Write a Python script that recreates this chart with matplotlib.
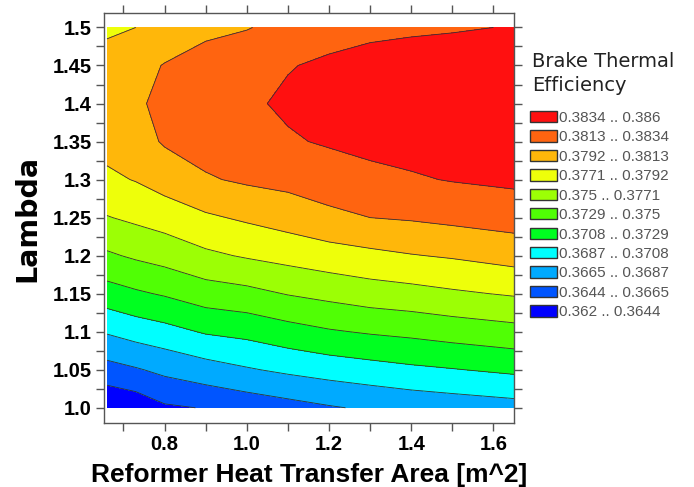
import matplotlib
matplotlib.use('Agg')
import matplotlib.pyplot as plt
from matplotlib.patches import Patch
from matplotlib.ticker import FixedLocator, FixedFormatter, MultipleLocator

plt.rcParams['font.family'] = ['Liberation Sans', 'DejaVu Sans']

# grid the efficiency values were read on
area = [0.66, 0.73, 0.8, 0.9, 1.0, 1.1, 1.2, 1.3, 1.4, 1.5, 1.65]
lam = [1.0, 1.05, 1.1, 1.15, 1.2, 1.25, 1.3, 1.35, 1.4, 1.45, 1.5]

# brake thermal efficiency, one row per lambda (bottom to top), one column per area
eff = [
    [0.3625, 0.3630, 0.3641, 0.3645, 0.3651, 0.3657, 0.3663, 0.3668, 0.3672, 0.3675, 0.3679],
    [0.3657, 0.3663, 0.3670, 0.3678, 0.3685, 0.3691, 0.3696, 0.3700, 0.3704, 0.3707, 0.3712],
    [0.3689, 0.3696, 0.3701, 0.3710, 0.3714, 0.3721, 0.3727, 0.3731, 0.3734, 0.3738, 0.3743],
    [0.3720, 0.3726, 0.3731, 0.3740, 0.3744, 0.3751, 0.3756, 0.3761, 0.3764, 0.3768, 0.3773],
    [0.3747, 0.3753, 0.3758, 0.3767, 0.3773, 0.3778, 0.3783, 0.3787, 0.3791, 0.3794, 0.3800],
    [0.3770, 0.3775, 0.3780, 0.3789, 0.3795, 0.3801, 0.3808, 0.3813, 0.3815, 0.3818, 0.3822],
    [0.3788, 0.3793, 0.3801, 0.3811, 0.3816, 0.3819, 0.3824, 0.3829, 0.3832, 0.3835, 0.3838],
    [0.3799, 0.3805, 0.3815, 0.3821, 0.3826, 0.3832, 0.3836, 0.3839, 0.3841, 0.3845, 0.3849],
    [0.3803, 0.3810, 0.3818, 0.3825, 0.3831, 0.3837, 0.3841, 0.3844, 0.3846, 0.3850, 0.3855],
    [0.3799, 0.3806, 0.3814, 0.3820, 0.3826, 0.3833, 0.3837, 0.3840, 0.3843, 0.3846, 0.3850],
    [0.3789, 0.3792, 0.3799, 0.3809, 0.3812, 0.3819, 0.3827, 0.3830, 0.3831, 0.3832, 0.3835],
]

levels = [0.362, 0.3644, 0.3665, 0.3687, 0.3708, 0.3729, 0.375,
          0.3771, 0.3792, 0.3813, 0.3834, 0.386]
level_names = ['0.362', '0.3644', '0.3665', '0.3687', '0.3708', '0.3729',
               '0.375', '0.3771', '0.3792', '0.3813', '0.3834', '0.386']
band_colors = ['#0000ff', '#0055ff', '#00aaff', '#00ffff', '#00ff20', '#50ff05',
               '#9cff05', '#eeff0a', '#ffb70a', '#ff6410', '#ff1010']

y_tick_labels = ['1.0', '1.05', '1.1', '1.15', '1.2', '1.25',
                 '1.3', '1.35', '1.4', '1.45', '1.5']
x_ticks = [0.8, 1.0, 1.2, 1.4, 1.6]
x_tick_labels = ['0.8', '1.0', '1.2', '1.4', '1.6']

fig = plt.figure(figsize=(6.94, 4.87), dpi=100)
ax = fig.add_axes([104 / 694, 1 - 423 / 487, 410 / 694, 410 / 487])

# filled bands plus thin outlines
ax.contourf(area, lam, eff, levels=levels, colors=band_colors)
ax.contour(area, lam, eff, levels=levels[1:-1], colors='#333333', linewidths=0.6)

ax.set_xlim(0.6527, 1.65)
ax.set_ylim(0.980, 1.519)

# ticks on all four sides, pointing out
ax.xaxis.set_major_locator(FixedLocator(x_ticks))
ax.xaxis.set_major_formatter(FixedFormatter(x_tick_labels))
ax.xaxis.set_minor_locator(MultipleLocator(0.1))
ax.yaxis.set_major_locator(FixedLocator(lam))
ax.yaxis.set_major_formatter(FixedFormatter(y_tick_labels))
ax.yaxis.set_minor_locator(MultipleLocator(0.025))
ax.tick_params(which='both', direction='out', top=True, right=True,
               length=6, width=1, color='#555555', labelsize=14.5, pad=3)
for lbl in ax.get_xticklabels() + ax.get_yticklabels():
    lbl.set_fontweight('bold')

for spine in ax.spines.values():
    spine.set_color('#555555')
    spine.set_linewidth(1)

ax.set_xlabel('Reformer Heat Transfer Area [m^2]', fontsize=19, fontweight='bold', labelpad=6)
ax.set_ylabel('Lambda', fontsize=20.5, fontweight='bold', family='DejaVu Sans', labelpad=8)

# legend title, then one entry per band, highest band first
fig.text(532 / 694, 1 - 52 / 487, 'Brake Thermal\nEfficiency', fontsize=14,
         family='DejaVu Sans', color='#222222', va='top', ha='left', linespacing=1.35)

handles = []
for i in range(len(band_colors) - 1, -1, -1):
    handles.append(Patch(facecolor=band_colors[i], edgecolor='#333333', linewidth=1,
                         label='%s .. %s' % (level_names[i], level_names[i + 1])))
leg = fig.legend(handles=handles, loc='upper left', bbox_to_anchor=(530 / 694, 1 - 111 / 487),
                 frameon=False, fontsize=11, handlelength=1.75,
                 handleheight=0.75, handletextpad=0.15, labelspacing=0.355,
                 borderaxespad=0, borderpad=0)
for txt in leg.get_texts():
    txt.set_color('#555555')

fig.savefig('out.png', dpi=100)
